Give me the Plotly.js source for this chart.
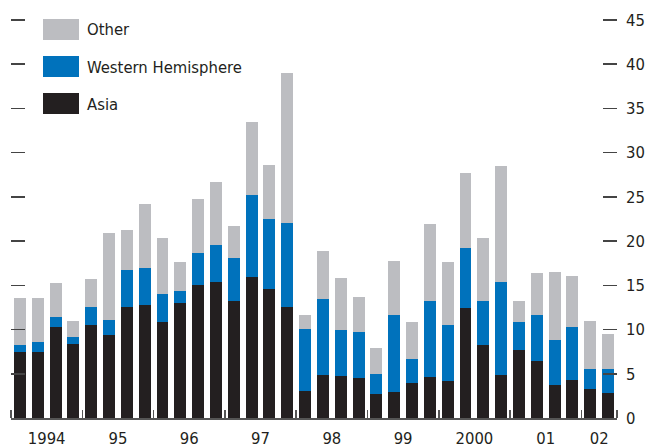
<!DOCTYPE html>
<html>
<head>
<meta charset="utf-8">
<script src="https://cdn.plot.ly/plotly-3.0.1.min.js"></script>
<style>
  html, body { margin: 0; padding: 0; background: #fff; }
  #chart { width: 647px; height: 447px; }
</style>
</head>
<body>
<div id="chart"></div>
<script>
// quarterly data, 1994Q1 - 2002Q2
const years = [1994,1994,1994,1994, 1995,1995,1995,1995, 1996,1996,1996,1996, 1997,1997,1997,1997,
               1998,1998,1998,1998, 1999,1999,1999,1999, 2000,2000,2000,2000, 2001,2001,2001,2001, 2002,2002];
const quarters = [1,2,3,4, 1,2,3,4, 1,2,3,4, 1,2,3,4, 1,2,3,4, 1,2,3,4, 1,2,3,4, 1,2,3,4, 1,2];

const asia = [7.5, 7.5, 10.3, 8.4, 10.5, 9.4, 12.6, 12.8, 10.8, 13.0, 15.0, 15.4, 13.2, 15.9, 14.6, 12.5,
              3.1, 4.9, 4.8, 4.5, 2.7, 2.9, 4.0, 4.6, 4.2, 12.4, 8.3, 4.9, 7.7, 6.4, 3.7, 4.3, 3.3, 2.8];
const westernHemisphere = [0.8, 1.1, 1.1, 0.8, 2.0, 1.7, 4.1, 4.2, 3.2, 1.4, 3.7, 4.2, 4.9, 9.3, 7.9, 9.6,
              7.0, 8.6, 5.2, 5.2, 2.3, 8.8, 2.7, 8.6, 6.3, 6.8, 4.9, 10.5, 3.2, 5.2, 5.1, 6.0, 2.2, 2.7];
const other = [5.3, 5.0, 3.9, 1.8, 3.2, 9.8, 4.6, 7.2, 6.3, 3.2, 6.1, 7.1, 3.6, 8.3, 6.1, 16.9,
              1.6, 5.4, 5.8, 4.0, 2.9, 6.0, 4.1, 8.7, 7.1, 8.5, 7.2, 13.1, 2.3, 4.8, 7.7, 5.8, 5.5, 4.0];

const yearLabels = ['1994', '95', '96', '97', '98', '99', '2000', '01', '02'];
const yearStarts = [1994, 1995, 1996, 1997, 1998, 1999, 2000, 2001, 2002];
const lastPoint = 2002.5;
const yTicks = [0, 5, 10, 15, 20, 25, 30, 35, 40, 45];

const FONT = '"DejaVu Sans Condensed", "Liberation Sans Narrow", sans-serif';
const FS = 16.5;
const TXT = '#231f20';
const colors = { other: '#bcbdc1', west: '#0072bc', asia: '#231f20' };

// x position: middle of each quarter
const xq = years.map((y, i) => y + (quarters[i] - 0.5) / 4);

// year label positions: middle of each (partial) year
const yearCenters = yearStarts.map((y, i) => {
  const end = i < yearStarts.length - 1 ? yearStarts[i + 1] : lastPoint;
  return (y + end) / 2;
});

function barTrace(name, vals, color) {
  return {
    type: 'bar', name: name, x: xq, y: vals,
    marker: { color: color, line: { width: 0 } },
    hoverinfo: 'x+y+name', showlegend: false
  };
}

const data = [
  barTrace('Asia', asia, colors.asia),
  barTrace('Western Hemisphere', westernHemisphere, colors.west),
  barTrace('Other', other, colors.other)
];

// page margins (px) -> used to place the legend in paper units
const M = { l: 11, r: 30, t: 16, b: 29 };
const W = 647, H = 447;
const pw = W - M.l - M.r, ph = H - M.t - M.b;
const px = v => (v - M.l) / pw;
const py = v => (H - M.b - v) / ph;

// custom legend: big swatches like the original
const legendItems = [
  { label: 'Other', color: colors.other },
  { label: 'Western Hemisphere', color: colors.west },
  { label: 'Asia', color: colors.asia }
];
const shapes = [];
const annotations = [];
legendItems.forEach((it, i) => {
  const top = 19 + i * 37;
  shapes.push({
    type: 'rect', xref: 'paper', yref: 'paper',
    x0: px(43), x1: px(79), y0: py(top + 21), y1: py(top),
    fillcolor: it.color, line: { width: 0 }
  });
  annotations.push({
    xref: 'paper', yref: 'paper', x: px(85), y: py(top + 11),
    xanchor: 'left', yanchor: 'middle', showarrow: false,
    text: it.label, font: { family: FONT, size: FS, color: TXT }
  });
});

const layout = {
  width: W, height: H,
  margin: M,
  paper_bgcolor: '#fff', plot_bgcolor: '#fff',
  barmode: 'stack',
  bargap: 0.33,
  showlegend: false,
  font: { family: FONT, size: FS, color: TXT },
  xaxis: {
    range: [yearStarts[0], lastPoint],
    tickmode: 'array', tickvals: yearCenters, ticktext: yearLabels,
    ticks: '', showgrid: false, zeroline: false,
    showline: true, linecolor: '#555', linewidth: 1.5,
    ticklabelstandoff: 5,
    minor: {
      tickmode: 'array', tickvals: yearStarts.concat([lastPoint]),
      ticks: 'inside', ticklen: 8, tickcolor: '#555', tickwidth: 1.5, showgrid: false
    }
  },
  yaxis: {
    side: 'right', range: [0, 45.45],
    tickmode: 'array', tickvals: yTicks,
    ticks: 'inside', ticklen: 14, tickwidth: 1.5, tickcolor: '#444',
    mirror: 'ticks',
    showline: false, showgrid: false, zeroline: false,
    ticklabelstandoff: 8
  },
  shapes: shapes,
  annotations: annotations
};

Plotly.newPlot('chart', data, layout, { displayModeBar: false, staticPlot: true });
</script>
</body>
</html>
